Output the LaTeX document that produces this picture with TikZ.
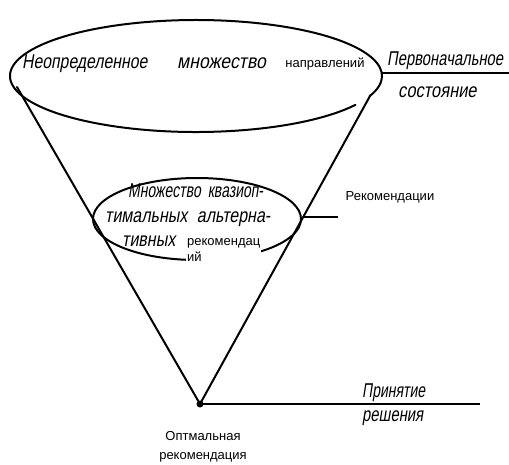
\documentclass[tikz,border=0pt]{standalone}
\usepackage{fontspec}
\usepackage{graphicx}
\setmainfont{Liberation Sans}
\newfontfamily\hand[FakeSlant=0.22]{Liberation Sans}
\newcommand\hsq[2]{\scalebox{#1}[1]{#2}}
\begin{document}
\begin{tikzpicture}[x=1pt,y=-1pt,
  handtext/.style={font=\hand\fontsize{20}{21}\selectfont, inner sep=0pt},
  label/.style={font=\fontsize{13}{16}\selectfont, inner sep=0pt},
  line/.style={line width=2pt, line cap=round},
  thin/.style={line width=1.1pt}]
\useasboundingbox (0,0) rectangle (509,464);
% big ellipse with a small gap at the lower right
\draw[line] (196,76) ++(31:186 and 56) arc[start angle=31, end angle=381, x radius=186, y radius=56];
% cone
\coordinate (apex) at (200,404);
\coordinate (tl) at (17,87);
\coordinate (tr) at (370,96);
\draw[line] (tl) -- (apex) -- (tr);
\fill (apex) circle (3.5);
% small ellipse
\draw[line] (197,219) ellipse [x radius=104, y radius=41];
% texts in big ellipse
\node[handtext, anchor=base west] (t1) at (22,68) {\hsq{0.79}{Неопределенное}};
\node[handtext, anchor=base west] (t2) at (177,68) {\hsq{0.88}{множество}};
\node[label] (t3) at (325,64) {направлений};
% initial state
\coordinate (ps) at (381,73);
\coordinate (pe) at (509,73);
\draw[thin] (ps) -- (pe);
\node[handtext, anchor=base west] (p1) at (387,65) {\hsq{0.74}{Первоначальное}};
\node[handtext, anchor=base west] (p2) at (398,97) {\hsq{0.82}{состояние}};
% small ellipse text
\node[handtext, anchor=base west] (m1) at (128,197) {\hsq{0.7}{Множество\hspace{10pt}квазиоп-}};
\node[handtext, anchor=base west] (m2) at (105,222) {\hsq{0.8}{тимальных\hspace{12pt}альтерна-}};
\node[handtext, anchor=base west] (m3) at (122,246) {\hsq{0.8}{тивных}};
\node[label, fill=white, inner sep=1pt, anchor=north west, align=left] (m4) at (186,237) {рекомендац\\ий};
% recommendations
\coordinate (rc) at (304,217);
\coordinate (re) at (338,217);
\draw[thin] (rc) -- (re);
\node[label] (r) at (390,197) {Рекомендации};
% decision
\coordinate (de) at (480,404);
\draw[thin] (apex) -- (de);
\node[handtext, anchor=base west] (d1) at (362,397) {\hsq{0.7}{Принятие}};
\node[handtext, anchor=base west] (d2) at (362,421) {\hsq{0.74}{решения}};
\node[label] (o1) at (203,436) {Оптмальная};
\node[label] (o2) at (203,457) {рекомендация};
\end{tikzpicture}
\end{document}
